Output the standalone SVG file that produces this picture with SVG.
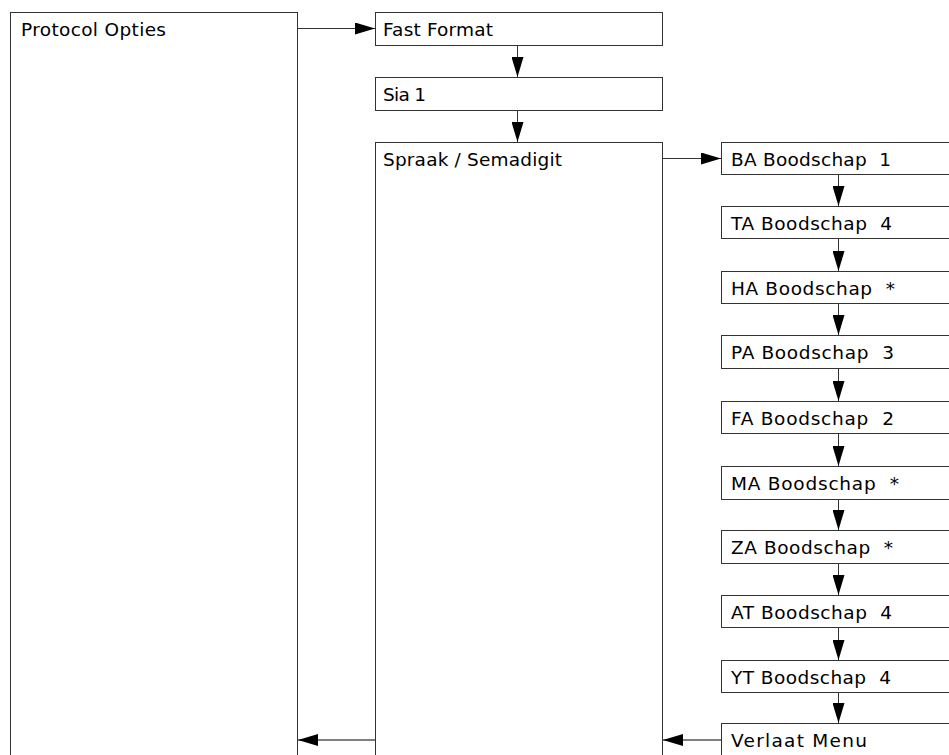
<svg xmlns="http://www.w3.org/2000/svg" width="949" height="755" viewBox="0 0 949 755">
<style>
.box{fill:#fff;stroke:#333;stroke-width:1}
.lbl{font-family:"DejaVu Sans","Liberation Sans",sans-serif;font-size:18.5px;fill:#000;white-space:pre}
.con{stroke:#333;stroke-width:1;fill:none}
.conb{stroke:#555;stroke-width:1.6;fill:none}
</style>
<defs>
<marker id="ah" markerUnits="userSpaceOnUse" markerWidth="20" markerHeight="12" refX="20" refY="6" orient="auto">
<path d="M0,0 L20,6 L0,12 z" fill="#000"/>
</marker>
</defs>
<rect width="949" height="755" fill="#fff"/>
<g id="protocol-opties"><rect class="box" x="10.5" y="12.5" width="287" height="760"/><text class="lbl" x="21" y="36" textLength="145" lengthAdjust="spacing">Protocol Opties</text></g>
<g id="fast-format"><rect class="box" x="375.5" y="12.5" width="287" height="33"/><text class="lbl" x="383" y="36" textLength="110" lengthAdjust="spacing">Fast Format</text></g>
<g id="sia1"><rect class="box" x="375.5" y="77.5" width="287" height="33"/><text class="lbl" x="383" y="101" textLength="43" lengthAdjust="spacing">Sia 1</text></g>
<g id="spraak"><rect class="box" x="375.5" y="142.5" width="287" height="630"/><text class="lbl" x="383" y="166" textLength="179" lengthAdjust="spacing">Spraak / Semadigit</text></g>
<g id="ba"><rect class="box" x="721.5" y="142.5" width="240" height="32"/><text class="lbl" x="731" y="166" textLength="160" lengthAdjust="spacing">BA Boodschap  1</text></g>
<g id="ta"><rect class="box" x="721.5" y="206.5" width="240" height="32"/><text class="lbl" x="731" y="230" textLength="161" lengthAdjust="spacing">TA Boodschap  4</text></g>
<g id="ha"><rect class="box" x="721.5" y="271.5" width="240" height="32"/><text class="lbl" x="731" y="295" textLength="164" lengthAdjust="spacing">HA Boodschap  *</text></g>
<g id="pa"><rect class="box" x="721.5" y="335.5" width="240" height="33"/><text class="lbl" x="731" y="359" textLength="163" lengthAdjust="spacing">PA Boodschap  3</text></g>
<g id="fa"><rect class="box" x="721.5" y="401.5" width="240" height="32"/><text class="lbl" x="731" y="425" textLength="163" lengthAdjust="spacing">FA Boodschap  2</text></g>
<g id="ma"><rect class="box" x="721.5" y="466.5" width="240" height="33"/><text class="lbl" x="731" y="490" textLength="168" lengthAdjust="spacing">MA Boodschap  *</text></g>
<g id="za"><rect class="box" x="721.5" y="530.5" width="240" height="33"/><text class="lbl" x="731" y="554" textLength="162" lengthAdjust="spacing">ZA Boodschap  *</text></g>
<g id="at"><rect class="box" x="721.5" y="595.5" width="240" height="32"/><text class="lbl" x="731" y="619" textLength="161" lengthAdjust="spacing">AT Boodschap  4</text></g>
<g id="yt"><rect class="box" x="721.5" y="660.5" width="240" height="32"/><text class="lbl" x="731" y="684" textLength="160" lengthAdjust="spacing">YT Boodschap  4</text></g>
<g id="verlaat"><rect class="box" x="721.5" y="723.5" width="240" height="50"/><text class="lbl" x="731" y="747" textLength="136" lengthAdjust="spacing">Verlaat Menu</text></g>
<g id="connectors">
<line class="con" x1="298" y1="28.5" x2="375" y2="28.5" marker-end="url(#ah)"/>
<line class="con" x1="517.5" y1="46" x2="517.5" y2="77" marker-end="url(#ah)"/>
<line class="con" x1="517.5" y1="111" x2="517.5" y2="142" marker-end="url(#ah)"/>
<line class="con" x1="663" y1="158.5" x2="721" y2="158.5" marker-end="url(#ah)"/>
<line class="con" x1="838.5" y1="175" x2="838.5" y2="206" marker-end="url(#ah)"/>
<line class="con" x1="838.5" y1="239" x2="838.5" y2="271" marker-end="url(#ah)"/>
<line class="con" x1="838.5" y1="304" x2="838.5" y2="335" marker-end="url(#ah)"/>
<line class="con" x1="838.5" y1="369" x2="838.5" y2="401" marker-end="url(#ah)"/>
<line class="con" x1="838.5" y1="434" x2="838.5" y2="466" marker-end="url(#ah)"/>
<line class="con" x1="838.5" y1="500" x2="838.5" y2="530" marker-end="url(#ah)"/>
<line class="con" x1="838.5" y1="564" x2="838.5" y2="595" marker-end="url(#ah)"/>
<line class="con" x1="838.5" y1="628" x2="838.5" y2="660" marker-end="url(#ah)"/>
<line class="con" x1="838.5" y1="693" x2="838.5" y2="723" marker-end="url(#ah)"/>
<line class="conb" x1="721" y1="740" x2="663" y2="740" marker-end="url(#ah)"/>
<line class="conb" x1="375" y1="740" x2="298" y2="740" marker-end="url(#ah)"/>
</g>
</svg>
